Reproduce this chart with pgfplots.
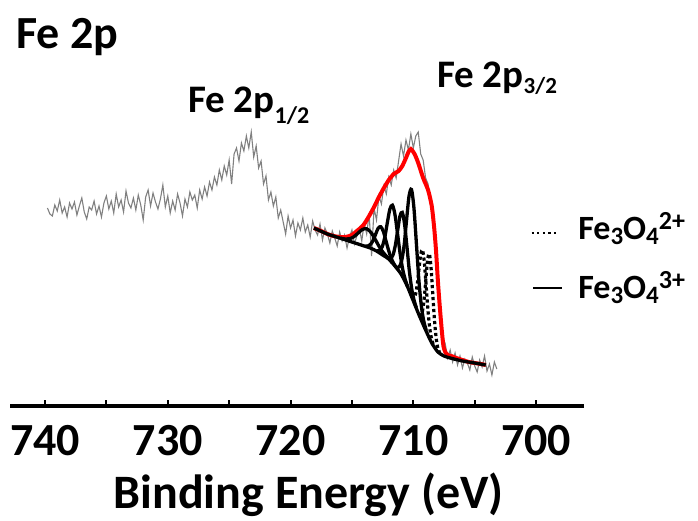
\documentclass[border=0pt]{standalone}
\usepackage{fontspec}
\setmainfont{Carlito}
\usepackage{pgfplots}
\pgfplotsset{compat=1.18}
\definecolor{spec}{RGB}{128,128,128}
\begin{document}
\begin{tikzpicture}
\path[use as bounding box] (-10pt,-114pt) rectangle (688pt,406pt);
\begin{axis}[
  scale only axis, width=574pt, height=406pt,
  xmin=696.1, xmax=742.85, x dir=reverse, ymin=0, ymax=406,
  axis x line*=bottom, axis y line=none,
  axis line style={line width=4.5pt},
  xtick={700,710,720,730,740}, minor xtick={705,715,725,735},
  tick align=inside, major tick length=6pt, minor tick length=6pt,
  tick style={line width=2pt, black},
  xticklabel style={font=\bfseries\fontsize{46}{46}\selectfont, inner sep=0pt, yshift=-19pt},
  /pgf/number format/assume math mode=true,
  clip=false,
]
% measured spectrum
\addplot[spec, line width=1.1pt] table {
739.8 198
739.6 192
739.4 190
739.2 201
739.0 195
738.8 206
738.6 193
738.4 199
738.2 189
738.0 203
737.8 197
737.6 204
737.4 191
737.2 200
737.0 208
736.8 194
736.6 187
736.4 199
736.2 196
736.0 205
735.8 192
735.6 200
735.4 189
735.2 203
735.0 210
734.8 197
734.6 205
734.4 193
734.2 212
734.0 199
733.8 206
733.6 194
733.4 215
733.2 203
733.0 198
732.8 208
732.6 196
732.4 211
732.2 201
732.0 186
731.8 209
731.6 216
731.4 200
731.2 213
731.0 204
730.8 197
730.6 207
730.4 221
730.2 199
730.0 210
729.8 193
729.6 205
729.4 196
729.2 212
729.0 203
728.8 190
728.6 207
728.4 199
728.2 214
728.0 206
727.8 211
727.6 198
727.4 216
727.2 207
727.0 219
726.8 210
726.6 224
726.4 216
726.2 229
726.0 221
725.8 236
725.6 226
725.4 240
725.2 231
725.0 246
724.8 222
724.6 252
724.4 258
724.2 245
724.0 263
723.8 255
723.6 270
723.4 258
723.2 274
723.0 249
722.8 260
722.6 238
722.4 245
722.2 222
722.0 230
721.8 206
721.6 214
721.4 200
721.2 209
721.0 188
720.8 196
720.6 184
720.4 172
720.2 190
720.0 178
719.8 186
719.6 170
719.4 183
719.2 176
719.0 188
718.8 174
718.6 181
718.4 169
718.2 185
718.0 176
717.8 171
717.6 182
717.4 166
717.2 178
717.0 172
716.8 163
716.6 175
716.4 168
716.2 160
716.0 174
715.8 165
715.6 171
715.4 158
715.2 169
715.0 176
714.8 162
714.6 170
714.4 178
714.2 165
714.0 183
713.8 172
713.6 192
713.4 150
713.2 198
713.0 186
712.8 210
712.6 202
712.4 220
712.2 212
712.0 229
711.8 221
711.6 236
711.4 228
711.2 245
711.0 262
710.8 250
710.6 266
710.4 256
710.2 272
710.0 258
709.8 270
709.6 274
709.4 252
709.2 246
709.0 228
708.8 222
708.6 205
708.4 190
708.2 158
708.0 128
707.8 92
707.6 70
707.4 62
707.2 48
707.0 56
706.8 44
706.6 53
706.4 41
706.2 50
706.0 38
705.8 47
705.6 43
705.4 36
705.2 49
705.0 40
704.8 34
704.6 46
704.4 39
704.2 50
704.0 35
703.8 42
703.6 31
703.4 44
703.2 37
};
% envelope
\addplot[red, line width=4pt, smooth, tension=0.4] table {
718.1 178
717.5 175
717.0 172
716.5 170
716.0 169
715.5 169
715.0 171
714.6 175
714.3 178
714.0 182
713.6 190
713.2 199
712.8 209
712.4 218
712.0 226
711.6 232
711.2 235
710.9 240
710.6 248
710.4 254
710.2 257
709.9 252
709.6 243
709.2 228
708.8 216
708.5 200
708.3 178
708.15 155
708.0 125
707.85 100
707.7 78
707.55 60
707.4 54
707.2 51
706.9 50
706.5 48
706.0 46
705.5 44
705.0 43
704.5 42
704.1 41
};
% background
\addplot[black, line width=3.3pt, smooth, tension=0.4] table {
718.1 178
717.0 172
716.0 168
715.5 166
715.0 164
714.5 162
714.0 160
713.5 158
713.0 155
712.5 151
712.0 147
711.5 140
711.0 132
710.5 120
710.0 105
709.5 90
709.0 76
708.5 63
708.0 54
707.5 50
707.0 48
706.0 45
705.0 43
704.1 41
};
% Fe3+ components
\addplot[black, line width=3.3pt, smooth] table {
715.9 167.8
715.55 167.0
715.2 167.2
714.85 169.2
714.5 172.9
714.15 176.5
713.8 177.2
713.45 173.6
713.1 166.5
712.75 158.8
712.4 152.6
712.05 148.2
711.7 143.0
};
\addplot[black, line width=3.3pt, smooth] table {
713.91 159.9
713.70 160.0
713.49 161.6
713.28 165.5
713.07 171.8
712.86 177.9
712.65 179.2
712.44 174.5
712.23 165.2
712.02 155.9
711.81 148.0
711.60 142.6
711.39 138.5
};
\addplot[black, line width=3.3pt, smooth] table {
712.96 155.3
712.75 155.5
712.54 159.1
712.33 168.4
712.12 183.2
711.91 196.9
711.70 200.8
711.49 191.0
711.28 171.7
711.07 151.9
710.86 136.4
710.65 126.1
710.44 118.8
};
\addplot[black, line width=3.3pt, smooth] table {
712.04 147.1
711.85 147.7
711.66 150.9
711.47 160.3
711.28 175.3
711.09 189.9
710.90 193.6
710.71 181.5
710.52 159.3
710.33 135.7
710.14 117.9
709.95 106.3
709.76 98.5
};
\addplot[black, line width=3.3pt, smooth] table {
711.35 138.8
711.15 139.1
710.95 145.3
710.75 160.7
710.55 186.1
710.35 209.9
710.15 216.5
709.95 197.9
709.75 162.4
709.55 126.2
709.35 100.3
709.15 84.9
708.95 75.9
};
% Fe2+ components
\addplot[black, line width=3.2pt, dash pattern=on 3.2pt off 2.8pt, smooth] table {
710.15 110.3
710.0 108.2
709.85 110.4
709.7 119.7
709.55 135.8
709.4 151.6
709.25 156.0
709.1 143.2
708.95 119.0
708.8 94.5
708.65 76.8
708.5 66.2
708.35 61.1
};
\addplot[black, line width=3.2pt, dash pattern=on 3.2pt off 2.8pt, smooth] table {
709.54 92.1
709.40 90.9
709.26 94.7
709.12 106.7
708.98 126.4
708.84 145.9
708.70 152.2
708.56 138.7
708.42 112.5
708.28 86.3
708.14 67.9
708.00 57.7
707.86 53.8
};
% legend samples
\addplot[black, line width=2.2pt, dash pattern=on 2.2pt off 3.4pt] coordinates {(700.37,173) (698.09,173)};
\addplot[black, line width=2.6pt] coordinates {(700.24,118) (697.88,118)};
% texts
\node[anchor=base west, inner sep=0pt, font=\bfseries\fontsize{46}{46}\selectfont] at (axis cs:742.36,358) {Fe 2p};
\node[anchor=base west, inner sep=0pt, font=\bfseries\fontsize{39}{39}\selectfont] at (axis cs:728.35,294) {Fe 2p\raisebox{-11pt}{\fontsize{24}{24}\selectfont 1/2}};
\node[anchor=base west, inner sep=0pt, font=\bfseries\fontsize{39}{39}\selectfont] at (axis cs:708.07,319) {Fe 2p\raisebox{-6pt}{\fontsize{23}{23}\selectfont 3/2}};
\node[anchor=base, inner sep=0pt, font=\bfseries\fontsize{48}{48}\selectfont] at (axis cs:718.53,-102) {Binding Energy (eV)};
\node[anchor=base west, inner sep=0pt, font=\bfseries\fontsize{34}{34}\selectfont] at (axis cs:696.58,167) {Fe\raisebox{-5pt}{\fontsize{25}{25}\selectfont 3}O\raisebox{-5pt}{\fontsize{25}{25}\selectfont 4}\raisebox{10pt}{\fontsize{26}{26}\selectfont 2+}};
\node[anchor=base west, inner sep=0pt, font=\bfseries\fontsize{34}{34}\selectfont] at (axis cs:696.58,108) {Fe\raisebox{-5pt}{\fontsize{25}{25}\selectfont 3}O\raisebox{-5pt}{\fontsize{25}{25}\selectfont 4}\raisebox{10pt}{\fontsize{26}{26}\selectfont 3+}};
\end{axis}
\end{tikzpicture}
\end{document}
